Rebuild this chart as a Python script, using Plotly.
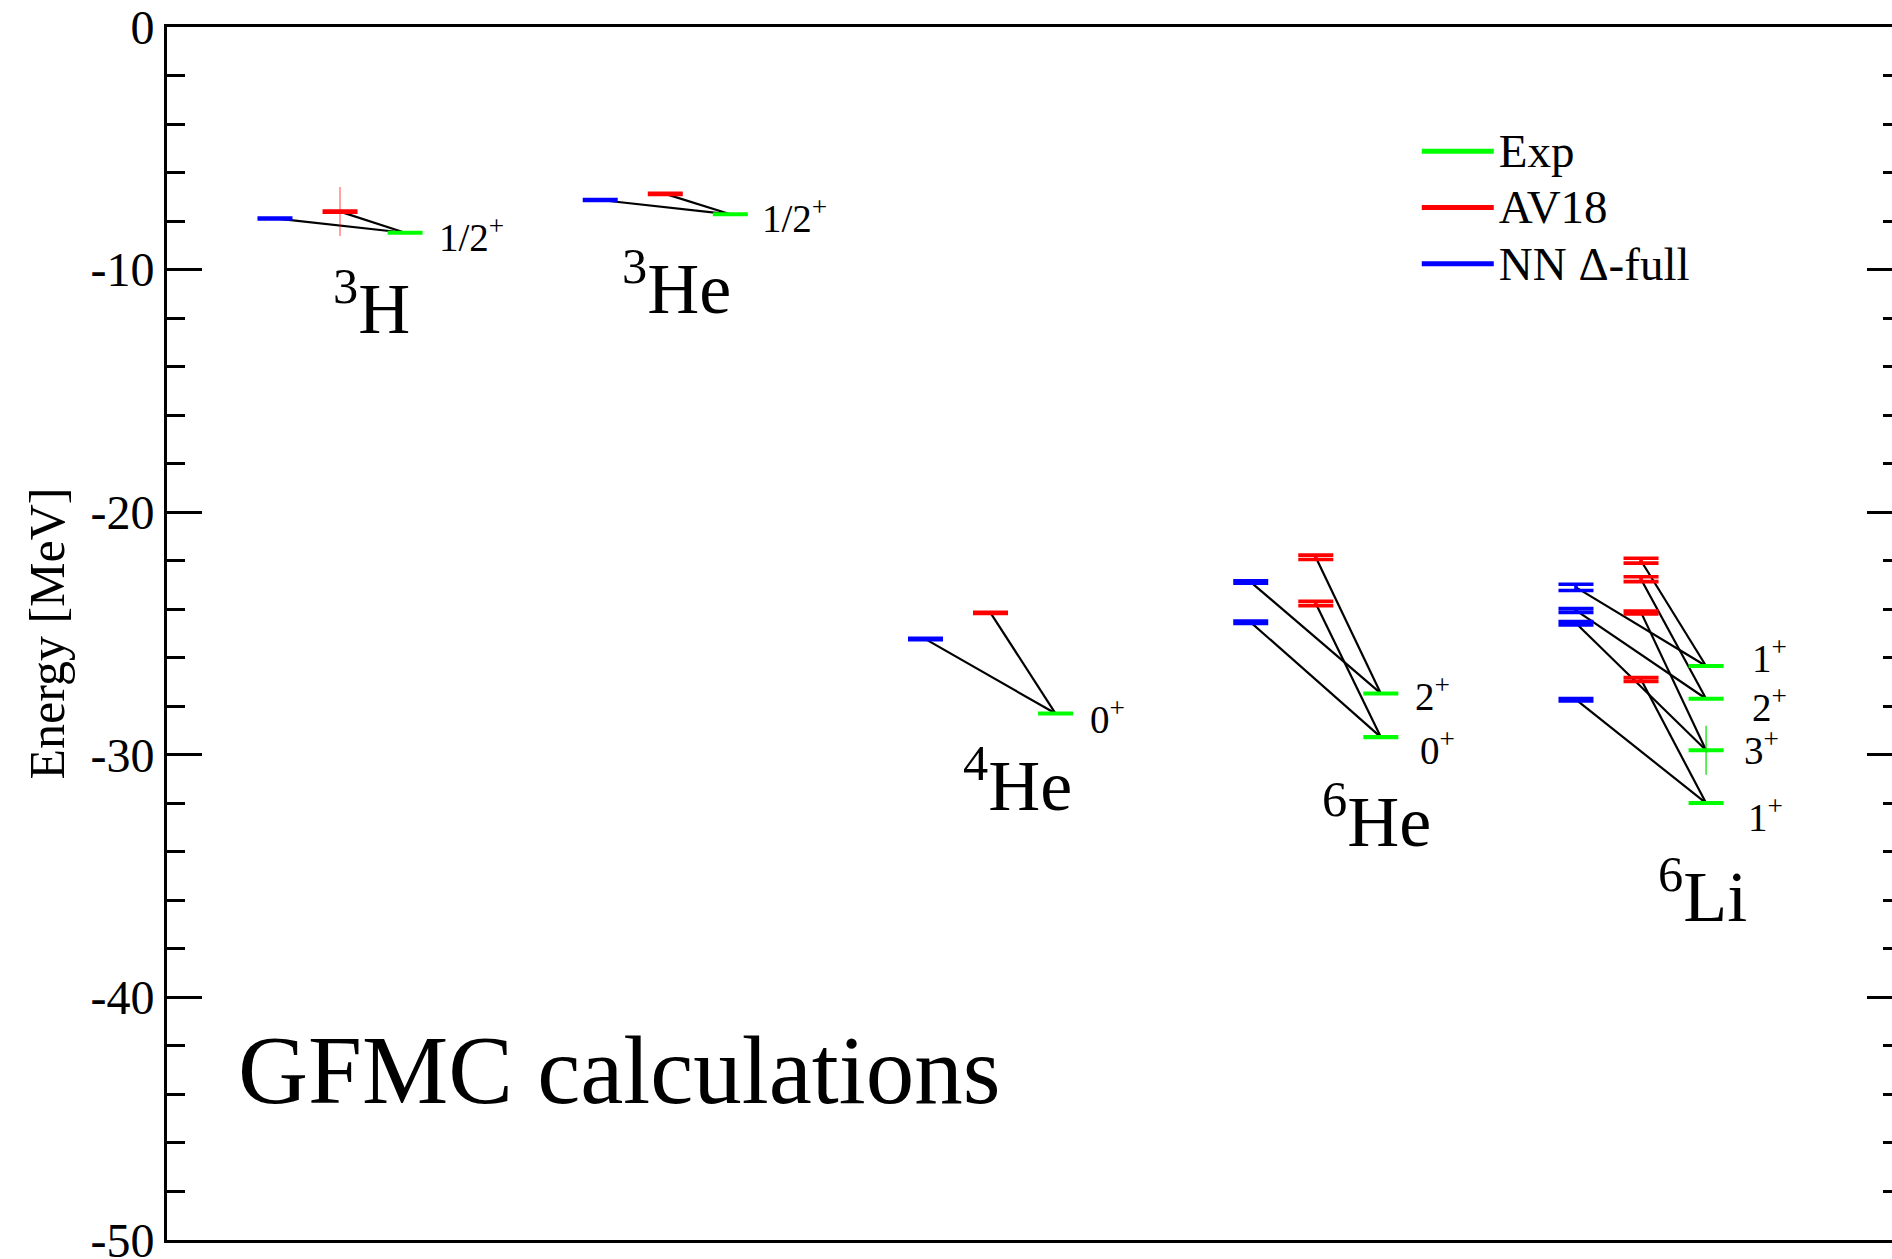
import plotly.graph_objects as go

FONT = "Liberation Serif, Times New Roman, serif"

# ---- data -----------------------------------------------------------------
nuclei = ["3H", "3He", "4He", "6He", "6Li"]
nucleus_text = ["<sup>3</sup>H", "<sup>3</sup>He", "<sup>4</sup>He",
                "<sup>6</sup>He", "<sup>6</sup>Li"]

# experimental levels (MeV)
exp_energy = [[-8.48], [-7.72], [-28.30], [-29.27, -27.47],
              [-31.99, -29.81, -27.69, -26.34]]
exp_error = [[0.01], [0.01], [0.01], [0.01, 0.01], [0.01, 0.01, 0.01, 0.01]]
spin_text = [["1/2<sup>+</sup>"], ["1/2<sup>+</sup>"], ["0<sup>+</sup>"],
             ["0<sup>+</sup>", "2<sup>+</sup>"],
             ["1<sup>+</sup>", "3<sup>+</sup>", "2<sup>+</sup>", "1<sup>+</sup>"]]

# GFMC with AV18
av18_energy = [[-7.61], [-6.88], [-24.15], [-23.76, -21.86],
               [-26.90, -24.13, -22.76, -22.00]]
av18_error = [[0.02], [0.02], [0.02], [0.09, 0.09], [0.08, 0.06, 0.10, 0.10]]

# GFMC with NN Delta-full
nn_energy = [[-7.89], [-7.13], [-25.23], [-24.54, -22.88],
             [-27.73, -24.58, -24.05, -23.10]]
nn_error = [[0.02], [0.02], [0.03], [0.05, 0.05], [0.05, 0.07, 0.08, 0.13]]

# states drawn with an extra cross marker: (nucleus index, series, state index)
cross_states = [(0, "AV18", 0), (4, "Exp", 1)]

# y-axis ticks
major_ticks = [0, -10, -20, -30, -40, -50]
major_tick_text = ["0", "-10", "-20", "-30", "-40", "-50"]

# ---- layout helpers -------------------------------------------------------
GROUP_STEP = 5
COL_OFFSET = {"NN": 1, "AV18": 2, "Exp": 3}
COLORS = {"Exp": "#00ff00", "AV18": "#ff0000", "NN": "#0000ff"}
CROSS_COLORS = {"Exp": "rgba(0,230,0,0.8)", "AV18": "rgba(255,0,0,0.45)"}


def col_x(i, series):
    return GROUP_STEP * i + COL_OFFSET[series]


# label placement relative to the experimental level: (dx, dy)
spin_offset = [[(0.49, -0.11)], [(0.46, -0.05)], [(0.50, -0.16)],
               [(0.57, -0.43), (0.49, -0.04)],
               [(0.61, -0.51), (0.55, 0.11), (0.67, -0.24), (0.67, 0.43)]]
nucleus_pos = [(2.48, -11.41), (7.17, -10.58), (12.42, -31.07),
               (17.93, -32.55), (22.95, -35.64)]

fig = go.Figure()

# connecting lines from each calculation to its experimental level
cx, cy = [], []
for i in range(len(nuclei)):
    for j, e_exp in enumerate(exp_energy[i]):
        for series, vals in (("NN", nn_energy), ("AV18", av18_energy)):
            cx += [col_x(i, series), col_x(i, "Exp"), None]
            cy += [vals[i][j], e_exp, None]
fig.add_trace(go.Scatter(x=cx, y=cy, mode="lines",
                         line=dict(color="black", width=2.2),
                         showlegend=False, hoverinfo="skip"))

# level bars: horizontal caps of the error bars
for series, vals, errs in (("NN", nn_energy, nn_error),
                           ("AV18", av18_energy, av18_error),
                           ("Exp", exp_energy, exp_error)):
    xs, ys, es = [], [], []
    for i in range(len(nuclei)):
        for e, d in zip(vals[i], errs[i]):
            xs.append(col_x(i, series))
            ys.append(e)
            es.append(d)
    fig.add_trace(go.Scatter(
        x=xs, y=ys, mode="markers",
        marker=dict(size=1, opacity=0, color=COLORS[series]),
        error_y=dict(type="data", array=es, visible=True,
                     color=COLORS[series], thickness=3.6, width=17.5),
        showlegend=False, hoverinfo="skip"))

# cross markers
series_vals = {"Exp": exp_energy, "AV18": av18_energy, "NN": nn_energy}
for i, series, j in cross_states:
    fig.add_trace(go.Scatter(
        x=[col_x(i, series)], y=[series_vals[series][i][j]], mode="markers",
        marker=dict(symbol="line-ns", size=35,
                    line=dict(width=1.6, color=CROSS_COLORS[series])),
        showlegend=False, hoverinfo="skip"))

# keeps the mirrored right-hand tick axis alive
fig.add_trace(go.Scatter(x=[None], y=[None], yaxis="y2", showlegend=False,
                         hoverinfo="skip"))

# legend entries
for series, name in (("Exp", "Exp"), ("AV18", "AV18"), ("NN", "NN Δ-full")):
    fig.add_trace(go.Scatter(
        x=[None], y=[None], mode="lines",
        name='<span style="font-size:47px">%s</span>' % name,
        line=dict(color=COLORS[series], width=5)))

annotations = []
for i in range(len(nuclei)):
    for j, e_exp in enumerate(exp_energy[i]):
        dx, dy = spin_offset[i][j]
        annotations.append(dict(
            x=col_x(i, "Exp") + dx, y=e_exp + dy, text=spin_text[i][j],
            xanchor="left", yanchor="middle", showarrow=False,
            font=dict(family=FONT, size=39, color="black")))
    nx, ny = nucleus_pos[i]
    annotations.append(dict(
        x=nx, y=ny, text=nucleus_text[i], xanchor="center", yanchor="middle",
        showarrow=False, font=dict(family=FONT, size=72, color="black")))

annotations.append(dict(
    x=0.04, y=0.1397, xref="paper", yref="paper", text="GFMC calculations",
    xanchor="left", yanchor="middle", showarrow=False,
    font=dict(family=FONT, size=97, color="black")))

# y-axis title
annotations.append(dict(
    x=-0.0701, y=0.5, xref="paper", yref="paper", text="Energy [MeV]",
    textangle=-90, xanchor="center", yanchor="middle", showarrow=False,
    font=dict(family=FONT, size=50, color="black")))

PX_PER_COL = 65.05
X_MIN = -0.66
PLOT_W = 1892 - 167

fig.update_layout(
    width=1892, height=1259,
    margin=dict(l=167, r=0, t=27, b=19, autoexpand=False),
    paper_bgcolor="white", plot_bgcolor="white",
    font=dict(family=FONT, color="black"),
    annotations=annotations,
    showlegend=True,
    legend=dict(x=0.7245, y=0.9250, xanchor="left", yanchor="top",
                bgcolor="rgba(0,0,0,0)", borderwidth=0, itemwidth=72,
                font=dict(family=FONT, size=41, color="black"),
                tracegroupgap=0),
    xaxis=dict(range=[X_MIN, X_MIN + PLOT_W / PX_PER_COL],
               showline=True, mirror=True, linecolor="black", linewidth=3,
               showgrid=False, zeroline=False, ticks="",
               showticklabels=False, fixedrange=True),
    yaxis=dict(range=[-50, 0], tickmode="array", tickvals=major_ticks,
               ticktext=major_tick_text, ticklabeloverflow="allow",
               showline=True, mirror=False, linecolor="black", linewidth=3,
               ticks="inside", ticklen=35, tickwidth=3, tickcolor="black",
               minor=dict(tickmode="linear", tick0=0, dtick=2,
                          ticks="inside", ticklen=18, tickwidth=3,
                          tickcolor="black", showgrid=False),
               showgrid=False, zeroline=False,
               tickfont=dict(family=FONT, size=48, color="black"),
               automargin=False),
    yaxis2=dict(range=[-50, 0], tickmode="array", tickvals=major_ticks,
                overlaying="y", side="right", showline=False, showgrid=False,
                zeroline=False, ticks="inside", ticklen=25, tickwidth=3,
                tickcolor="black",
                minor=dict(tickmode="linear", tick0=0, dtick=2,
                           ticks="inside", ticklen=9, tickwidth=3,
                           tickcolor="black", showgrid=False),
                showticklabels=False),
)

fig.write_html("out.html")
